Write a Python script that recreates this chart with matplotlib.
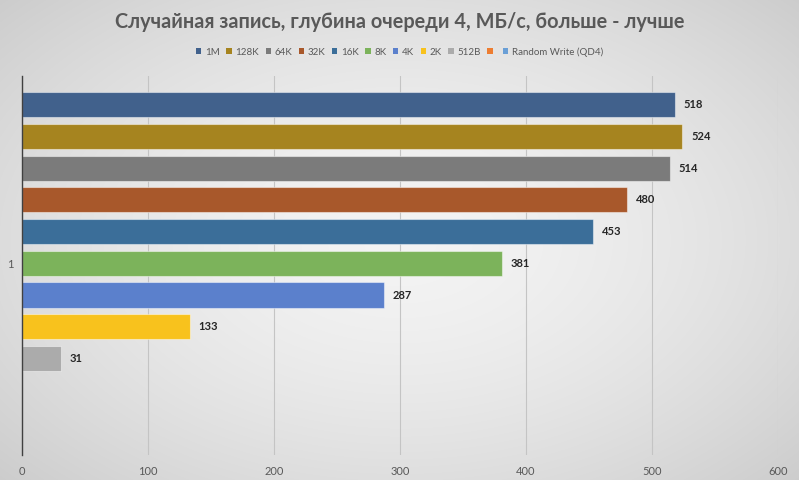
import numpy as np
import matplotlib
matplotlib.use("Agg")
import matplotlib.pyplot as plt
from matplotlib.patches import Patch

title = "Случайная запись, глубина очереди 4, МБ/с, больше - лучше"
series = ["1M", "128K", "64K", "32K", "16K", "8K", "4K", "2K", "512B", "", "Random Write (QD4)"]
values = [518, 524, 514, 480, 453, 381, 287, 133, 31, np.nan, np.nan]
colors = ["#41618c", "#a6841f", "#7b7b7b", "#a8582b", "#3b6e99", "#7cb35b",
          "#5b80cc", "#f8c21d", "#ababab", "#ed7d31", "#6a9fd6"]
category = "1"
xticks = [0, 100, 200, 300, 400, 500, 600]

plt.rcParams['font.family'] = ['Lato', 'DejaVu Sans']

fig = plt.figure(figsize=(7.99, 4.80), dpi=100)

# radial gradient background
bg = fig.add_axes([0, 0, 1, 1], zorder=-10)
yy, xx = np.mgrid[0:480, 0:799]
r = np.sqrt(((xx - 400) / 520.0) ** 2 + ((yy - 240) / 330.0) ** 2)
g = np.clip(0.955 - 0.14 * r ** 1.6, 0, 1)
bg.imshow(np.dstack([g, g, g]), aspect='auto', extent=[0, 1, 0, 1])
bg.axis('off')

ax = fig.add_axes([22 / 799, 1 - 455 / 480, (778 - 22) / 799, (455 - 76) / 480])
ax.patch.set_alpha(0)

n = len(series)
pos = np.arange(n)
for i, (lab, v, c) in enumerate(zip(series, values, colors)):
    if np.isnan(v):
        continue
    ax.barh(pos[i], v, height=0.79, color=c, edgecolor=(1, 1, 1, 0.45), linewidth=0.8, zorder=3)
    ax.text(v + 7, pos[i], f"{v:g}", va='center', ha='left', fontsize=8,
            fontweight='bold', color='#262626', zorder=4)

ax.set_xlim(0, 600)
ax.set_ylim(n - 1 + 1.04, -0.9)
ax.set_xticks(xticks)
ax.set_xticklabels([str(t) for t in xticks])
ax.set_yticks([(n - 1) / 2])
ax.set_yticklabels([category])
ax.tick_params(axis='both', length=0, labelsize=8, colors='#595959')
ax.tick_params(axis='x', pad=8)
ax.tick_params(axis='y', pad=6)
ax.grid(axis='x', color='#c4c4c4', linewidth=0.8, zorder=0)
for s in ['top', 'right', 'bottom']:
    ax.spines[s].set_visible(False)
ax.spines['left'].set_color('#404040')
ax.spines['left'].set_linewidth(1.0)
ax.spines['left'].set_zorder(5)

fig.text(0.5, 1 - 22 / 480, title, ha='center', va='center', fontsize=14.3,
         fontweight='bold', color='#595959')

handles = [Patch(facecolor=c, edgecolor='none') for c in colors]
leg = fig.legend(handles, series, loc='center', bbox_to_anchor=(0.5, 1 - 52 / 480),
                 ncol=n, frameon=False, fontsize=7, handlelength=0.55, handleheight=0.55,
                 handletextpad=0.35, columnspacing=0.7, labelcolor='#595959')

fig.savefig("out.png", dpi=100)
